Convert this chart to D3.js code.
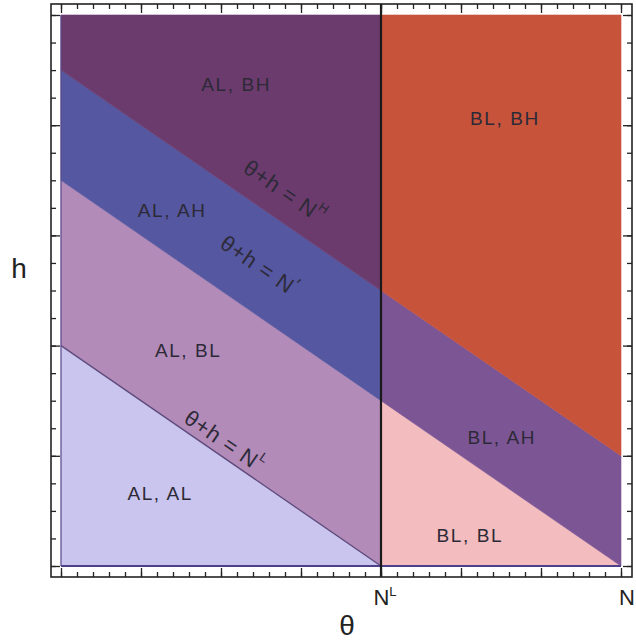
<!DOCTYPE html>
<html><head><meta charset="utf-8">
<script src="https://cdn.jsdelivr.net/npm/d3@7/dist/d3.min.js"></script>
<style>html,body{margin:0;padding:0;background:#fff;}svg{display:block;}</style>
</head><body>
<svg id="c" width="636" height="642"></svg>
<script>
// ---- data (θ in [0,N], h in [0,10]) ----
const thetaDomain = [0, 7];
const hDomain = [0, 10];
const NL = 4, NM = 7, NH = 9;   // boundaries θ+h = N^L, N, N^H
const regionNames = ["AL, AL", "AL, BL", "AL, AH", "AL, BH", "BL, BL", "BL, AH", "BL, BH"];
const regionColors = ["#c9c5ee", "#b38bb9", "#5557a0", "#6b3b6d", "#f3bcbe", "#7c5595", "#c8533b"];
// region polygons as (θ, h) vertices
const regionPolys = [
  [[0,0],[4,0],[0,4]],
  [[0,4],[4,0],[4,3],[0,7]],
  [[0,7],[4,3],[4,5],[0,9]],
  [[0,9],[4,5],[4,10],[0,10]],
  [[4,0],[7,0],[4,3]],
  [[4,3],[7,0],[7,2],[4,5]],
  [[4,5],[7,2],[7,10],[4,10]]
];
const regionLabelPos = [[1.24,1.31],[1.59,3.92],[1.39,6.46],[2.19,8.73],[5.11,0.56],[5.51,2.34],[5.55,8.13]];
const lineLabelSup = ["H", "\u2032", "L"];
const lineLabelPos = [[2.80,6.80],[2.48,5.46],[2.05,2.27]];
const xTickLabels = [{v:4, t:"N", s:"L"}, {v:7, t:"N", s:""}];

// ---- layout ----
const svg = d3.select("#c");
const plot = {l:61, r:621, t:15, b:566};
const frame = {l:51, r:632, t:4, b:577};
const x = d3.scaleLinear().domain(thetaDomain).range([plot.l, plot.r]);
const y = d3.scaleLinear().domain(hDomain).range([plot.b, plot.t]);

// regions
svg.append("g").selectAll("path").data(regionPolys).join("path")
  .attr("d", p => "M" + p.map(d => x(d[0]) + "," + y(d[1])).join("L") + "Z")
  .attr("fill", (d,i) => regionColors[i])
  .attr("stroke", (d,i) => regionColors[i]).attr("stroke-width", 0.6);

// boundary lines
const line = d3.line().x(d => x(d[0])).y(d => y(d[1]));
svg.append("path").attr("d", line([[0,NL],[NL,0]])).attr("stroke","#4e3c70").attr("stroke-width",1.3).attr("fill","none").attr("opacity",0.85);
svg.append("path").attr("d", line([[0,0],[7,0]])).attr("stroke","#4d3f88").attr("stroke-width",2).attr("fill","none");
svg.append("path").attr("d", line([[0,0],[0,10]])).attr("stroke","#5a4a8a").attr("stroke-width",1.2).attr("fill","none");

// vertical line at N^L
svg.append("line").attr("x1", x(NL)).attr("x2", x(NL)).attr("y1", frame.t).attr("y2", frame.b)
  .attr("stroke","#1a1a1a").attr("stroke-width",2.2);

// frame
svg.append("rect").attr("x",frame.l).attr("y",frame.t).attr("width",frame.r-frame.l).attr("height",frame.b-frame.t)
  .attr("fill","none").attr("stroke","#222").attr("stroke-width",1.6);

// ticks
function ticks(axisFn, scale, tr, count, size){
  const g = svg.append("g").attr("transform", tr)
    .call(axisFn(scale).ticks(count).tickSize(-size).tickFormat(""));
  g.select(".domain").remove();
  g.selectAll("line").attr("stroke","#222").attr("stroke-width",1.3);
}
ticks(d3.axisBottom, x, `translate(0,${frame.b})`, 7, 9);
ticks(d3.axisBottom, x, `translate(0,${frame.b})`, 35, 5);
ticks(d3.axisTop, x, `translate(0,${frame.t})`, 7, 9);
ticks(d3.axisTop, x, `translate(0,${frame.t})`, 35, 5);
ticks(d3.axisLeft, y, `translate(${frame.l},0)`, 5, 9);
ticks(d3.axisLeft, y, `translate(${frame.l},0)`, 20, 5);
ticks(d3.axisRight, y, `translate(${frame.r},0)`, 5, 9);
ticks(d3.axisRight, y, `translate(${frame.r},0)`, 20, 5);

const font = "Liberation Sans, Arial, Helvetica, sans-serif";
// region labels
svg.append("g").selectAll("text").data(regionNames).join("text")
  .attr("x", (d,i) => x(regionLabelPos[i][0])).attr("y", (d,i) => y(regionLabelPos[i][1]))
  .attr("text-anchor","middle").attr("dominant-baseline","central")
  .attr("font-family", font).attr("font-size", 19).attr("letter-spacing", 1.6)
  .attr("fill","#2d2a38").text(d => d);

// line labels (rotated along slope)
const ang = Math.atan2(y(0) - y(1), x(1) - x(0)) * 180 / Math.PI; // slope of θ+h=c
lineLabelSup.forEach((s,i) => {
  const px = x(lineLabelPos[i][0]), py = y(lineLabelPos[i][1]);
  const t = svg.append("text").attr("transform", `translate(${px},${py}) rotate(${ang})`)
    .attr("text-anchor","middle").attr("dominant-baseline","central")
    .attr("font-family", font).attr("font-size", 22).attr("letter-spacing", 0.8).attr("fill","#2d2a38");
  t.append("tspan").text("θ+h = N");
  t.append("tspan").attr("font-size", s === "\u2032" ? 18 : 13).attr("dy", s === "\u2032" ? -5 : -9).text(s);
});

// axis labels
svg.append("text").attr("x", 19).attr("y", 268).attr("text-anchor","middle").attr("dominant-baseline","central")
  .attr("font-family", font).attr("font-size", 28).attr("fill","#222").text("h");
svg.append("text").attr("x", 347).attr("y", 625).attr("text-anchor","middle").attr("dominant-baseline","central")
  .attr("font-family", font).attr("font-size", 28).attr("fill","#222").text("θ");
xTickLabels.forEach(d => {
  const t = svg.append("text").attr("x", x(d.v) + (d.s ? 4 : 6)).attr("y", 605).attr("text-anchor","middle")
    .attr("font-family", font).attr("font-size", 22).attr("fill","#222");
  t.append("tspan").text(d.t);
  if (d.s) t.append("tspan").attr("font-size", 13).attr("dy", -9).text(d.s);
});
</script>
</body></html>
